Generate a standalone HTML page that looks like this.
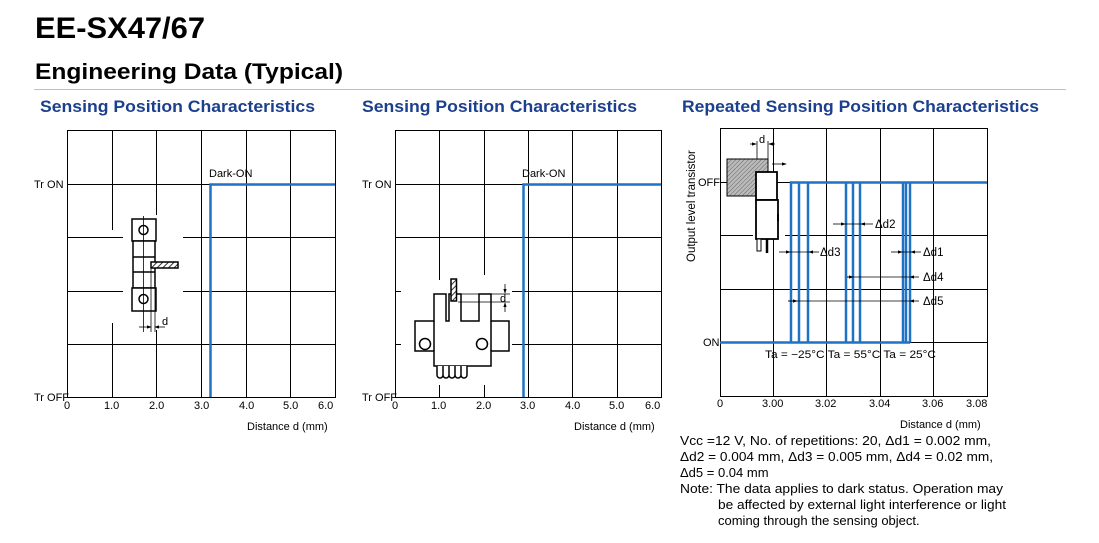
<!DOCTYPE html>
<html><head><meta charset="utf-8"><style>
html,body{margin:0;padding:0;background:#fff;width:1099px;height:543px;overflow:hidden}
svg{display:block;font-family:"Liberation Sans",sans-serif}
</style></head><body>
<svg width="1099" height="543" viewBox="0 0 1099 543" xmlns="http://www.w3.org/2000/svg">
<defs>
<pattern id="h" width="4" height="4" patternUnits="userSpaceOnUse" patternTransform="rotate(45)"><rect width="4" height="4" fill="#fff"/><line x1="0" y1="0" x2="0" y2="4" stroke="#333" stroke-width="2"/></pattern>
<pattern id="h2" width="3" height="3" patternUnits="userSpaceOnUse" patternTransform="rotate(45)"><rect width="3" height="3" fill="#bbb"/><line x1="0" y1="0" x2="0" y2="3" stroke="#666" stroke-width="1"/></pattern>
<marker id="a" markerWidth="6" markerHeight="6" refX="5" refY="3" orient="auto"><path d="M0,1 L6,3 L0,5z" fill="#000"/></marker>
</defs>
<text x="35" y="38" font-size="30" font-weight="bold" textLength="170" lengthAdjust="spacingAndGlyphs">EE-SX47/67</text>
<text x="35" y="79" font-size="22" font-weight="bold" textLength="308" lengthAdjust="spacingAndGlyphs">Engineering Data (Typical)</text>
<line x1="34" y1="89.5" x2="1066" y2="89.5" stroke="#8fd0ec" stroke-width="1"/>
<g font-size="17" font-weight="bold" fill="#1c3f8e">
<text x="40" y="112" textLength="275" lengthAdjust="spacingAndGlyphs">Sensing Position Characteristics</text>
<text x="362" y="112" textLength="275" lengthAdjust="spacingAndGlyphs">Sensing Position Characteristics</text>
<text x="682" y="112" textLength="357" lengthAdjust="spacingAndGlyphs">Repeated Sensing Position Characteristics</text>
</g>

<!-- Chart 1 -->
<g stroke="#000" stroke-width="1" fill="none">
<rect x="67.5" y="130.5" width="268" height="267"/>
<path d="M112.5 130v100 M112.5 323v75 M156.5 130v85 M156.5 330v68 M201.5 130v268 M246.5 130v268 M290.5 130v268
M67 184.5h268 M67 237.5h56 M183 237.5h152 M67 291.5h56 M183 291.5h152 M67 344.5h268"/>
</g>
<path d="M210.5 397V184.5H335" stroke="#1f72c4" stroke-width="2.5" fill="none"/>
<g font-size="11">
<text x="209" y="177">Dark-ON</text>
<text x="34" y="188">Tr ON</text>
<text x="34" y="401">Tr OFF</text>
<text x="64" y="409">0</text>
<text x="104" y="409">1.0</text>
<text x="149" y="409">2.0</text>
<text x="194" y="409">3.0</text>
<text x="239" y="409">4.0</text>
<text x="283" y="409">5.0</text>
<text x="318" y="409">6.0</text>
<text x="247" y="430">Distance d (mm)</text>
</g>
<g stroke="#000" fill="#fff" stroke-width="1.5">
<rect x="132" y="219" width="24" height="22"/>
<rect x="133" y="241" width="22" height="47"/>
<rect x="132" y="288" width="24" height="23"/>
<circle cx="143.5" cy="230" r="4.5"/><circle cx="143.5" cy="299" r="4.5"/>
<line x1="133" y1="257" x2="155" y2="257"/><line x1="133" y1="272" x2="155" y2="272"/>
<line x1="143.5" y1="216" x2="143.5" y2="332" stroke-width="0.8"/>
<rect x="151" y="262" width="27" height="6" fill="url(#h)"/>
<line x1="151" y1="268" x2="151" y2="332" stroke-width="0.8"/>
<line x1="155" y1="288" x2="155" y2="332" stroke-width="0.8"/>
</g>
<line x1="139" y1="327" x2="151" y2="327" stroke="#000" stroke-width="0.8" marker-end="url(#a)"/>
<line x1="165" y1="327" x2="155" y2="327" stroke="#000" stroke-width="0.8" marker-end="url(#a)"/>
<text x="162" y="325" font-size="11">d</text>

<!-- Chart 2 -->
<g stroke="#000" stroke-width="1" fill="none">
<rect x="395.5" y="130.5" width="266" height="267"/>
<path d="M439.5 130v150 M439.5 385v13 M484.5 130v145 M484.5 385v13 M528.5 130v268 M572.5 130v268 M617.5 130v268
M395 184.5h266 M395 237.5h266 M395 291.5h6 M512 291.5h149 M395 344.5h6 M512 344.5h149"/>
</g>
<path d="M523.5 397V184.5H661" stroke="#1f72c4" stroke-width="2.5" fill="none"/>
<g font-size="11">
<text x="522" y="177">Dark-ON</text>
<text x="362" y="188">Tr ON</text>
<text x="362" y="401">Tr OFF</text>
<text x="392" y="409">0</text>
<text x="431" y="409">1.0</text>
<text x="476" y="409">2.0</text>
<text x="520" y="409">3.0</text>
<text x="565" y="409">4.0</text>
<text x="609" y="409">5.0</text>
<text x="645" y="409">6.0</text>
<text x="574" y="430">Distance d (mm)</text>
</g>
<g stroke="#000" fill="#fff" stroke-width="1.5">
<path d="M415 321V351H434V366H491V351H509V321H491V294H479V321H461V294H449V321H446V294H434V321Z"/>
<line x1="434" y1="321" x2="434" y2="351"/><line x1="491" y1="321" x2="491" y2="351"/>
<circle cx="425" cy="344" r="5.5"/><circle cx="482" cy="344" r="5.5"/>
<path d="M437 366v9a3 3 0 0 0 6 0v-9 M443 366v9a3 3 0 0 0 6 0v-9 M449 366v9a3 3 0 0 0 6 0v-9 M455 366v9a3 3 0 0 0 6 0v-9 M461 366v9a3 3 0 0 0 6 0v-9"/>
<rect x="451" y="279" width="5.5" height="22" fill="url(#h)"/>
</g>
<g stroke="#000" stroke-width="0.8"><line x1="458" y1="294" x2="510" y2="294"/><line x1="458" y1="302" x2="510" y2="302"/>
<line x1="505" y1="284" x2="505" y2="293" marker-end="url(#a)"/><line x1="505" y1="312" x2="505" y2="303" marker-end="url(#a)"/></g>
<text x="500" y="302" font-size="11">d</text>

<!-- Chart 3 -->
<g stroke="#000" stroke-width="1" fill="none">
<rect x="720.5" y="128.5" width="267" height="268"/>
<path d="M773.5 128v268 M826.5 128v268 M880.5 128v268 M933.5 128v268
M720 182.5h267 M720 235.5h33 M785 235.5h202 M720 289.5h267 M720 342.5h267"/>
</g>
<path d="M720 342.5H791V182.5H987 M799 342.5V182.5 M808 342.5V182.5 M791 342.5H910 M846 342.5V182.5 M853 342.5V182.5 M860 342.5V182.5 M903 342.5V182.5 M906 342.5V182.5 M910 342.5V182.5" stroke="#1f72c4" stroke-width="2.5" fill="none"/>
<g stroke="#000" stroke-width="0.8">
<line x1="833" y1="224" x2="845" y2="224" marker-end="url(#a)"/><line x1="873" y1="224" x2="861" y2="224" marker-end="url(#a)"/><line x1="845" y1="224" x2="861" y2="224"/>
<line x1="779" y1="252" x2="790" y2="252" marker-end="url(#a)"/><line x1="819" y1="252" x2="809" y2="252" marker-end="url(#a)"/><line x1="790" y1="252" x2="809" y2="252"/>
<line x1="891" y1="252" x2="902" y2="252" marker-end="url(#a)"/><line x1="921" y1="252" x2="911" y2="252" marker-end="url(#a)"/><line x1="902" y1="252" x2="911" y2="252"/>
<line x1="847" y1="277" x2="910" y2="277"/><line x1="847" y1="277" x2="853" y2="277" marker-end="url(#a)"/><line x1="919" y1="277" x2="910" y2="277" marker-end="url(#a)"/>
<line x1="788" y1="301" x2="910" y2="301"/><line x1="788" y1="301" x2="797" y2="301" marker-end="url(#a)"/><line x1="919" y1="301" x2="910" y2="301" marker-end="url(#a)"/>
</g>
<g font-size="11.5">
<text x="875" y="228">Δd2</text>
<text x="820" y="256">Δd3</text>
<text x="923" y="256">Δd1</text>
<text x="923" y="281">Δd4</text>
<text x="923" y="305">Δd5</text>
<text x="765" y="358" font-size="11" textLength="171" lengthAdjust="spacingAndGlyphs">Ta = −25°C  Ta = 55°C  Ta = 25°C</text>
<text x="698" y="186" font-size="11">OFF</text>
<text x="703" y="346" font-size="11">ON</text>
<text x="717" y="407" font-size="11">0</text>
<text x="762" y="407" font-size="11">3.00</text>
<text x="815" y="407" font-size="11">3.02</text>
<text x="869" y="407" font-size="11">3.04</text>
<text x="922" y="407" font-size="11">3.06</text>
<text x="966" y="407" font-size="11">3.08</text>
<text x="900" y="428" font-size="11">Distance d (mm)</text>
<text transform="translate(695,262) rotate(-90)" font-size="11.5">Output level transistor</text>
</g>
<rect x="727" y="159" width="41" height="37" fill="url(#h2)" stroke="#000" stroke-width="1"/>
<g stroke="#000" fill="#fff" stroke-width="1.8">
<rect x="756" y="172" width="21" height="28"/>
<rect x="756" y="200" width="22" height="39"/>
<rect x="757" y="239" width="4" height="12" stroke-width="1"/>
</g>
<line x1="767" y1="239" x2="767" y2="253" stroke="#000" stroke-width="2.5"/>
<rect x="777" y="214" width="2" height="7" fill="#000"/>
<g stroke="#000" stroke-width="0.8">
<line x1="757" y1="141" x2="757" y2="159"/><line x1="768" y1="141" x2="768" y2="159"/>
<line x1="750" y1="144" x2="756" y2="144" marker-end="url(#a)"/><line x1="775" y1="144" x2="769" y2="144" marker-end="url(#a)"/>
<line x1="772" y1="164" x2="786" y2="164" marker-end="url(#a)"/>
</g>
<text x="759" y="143" font-size="11">d</text>
<g font-size="13">
<text x="680" y="445" textLength="311" lengthAdjust="spacingAndGlyphs">Vcc =12 V, No. of repetitions: 20, Δd1 = 0.002 mm,</text>
<text x="680" y="461" textLength="313" lengthAdjust="spacingAndGlyphs">Δd2 = 0.004 mm, Δd3 = 0.005 mm, Δd4 = 0.02 mm,</text>
<text x="680" y="477">Δd5 = 0.04 mm</text>
<text x="680" y="493" textLength="323" lengthAdjust="spacingAndGlyphs">Note: The data applies to dark status. Operation may</text>
<text x="718" y="509" textLength="288" lengthAdjust="spacingAndGlyphs">be affected by external light interference or light</text>
<text x="718" y="525">coming through the sensing object.</text>
</g>
</svg>
</body></html>
